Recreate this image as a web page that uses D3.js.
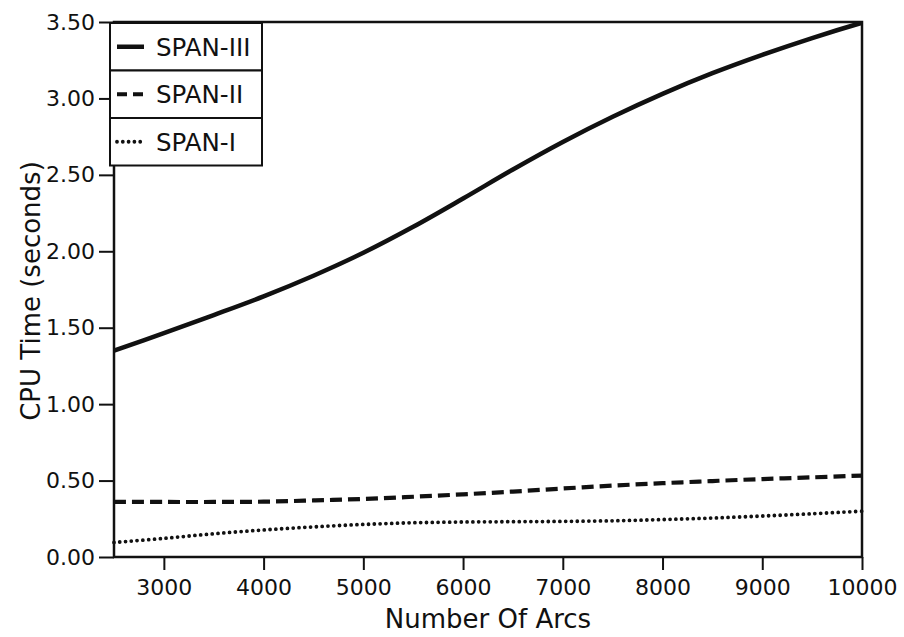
<!DOCTYPE html>
<html>
<head>
<meta charset="utf-8">
<script src="https://cdn.jsdelivr.net/npm/d3@7"></script>
<style>
  html, body { margin: 0; padding: 0; background: #fff; }
  svg { display: block; }
  text { font-family: "DejaVu Sans", sans-serif; fill: #111; }
</style>
</head>
<body>
<svg id="chart" width="904" height="637"></svg>
<script>
// ---- data ----
const arcs = [2500, 3000, 3500, 4000, 4500, 5000, 5500, 6000, 6500, 7000, 7500, 8000, 8500, 9000, 9500, 10000];
const span3 = [1.35, 1.465, 1.583, 1.705, 1.84, 1.99, 2.16, 2.345, 2.535, 2.715, 2.88, 3.03, 3.165, 3.285, 3.395, 3.495];
const span2 = [0.36, 0.36, 0.36, 0.362, 0.37, 0.38, 0.394, 0.41, 0.428, 0.448, 0.467, 0.483, 0.497, 0.51, 0.521, 0.533];
const span1 = [0.095, 0.122, 0.152, 0.177, 0.197, 0.213, 0.224, 0.229, 0.231, 0.233, 0.237, 0.245, 0.255, 0.268, 0.283, 0.30];
const seriesNames = ["SPAN-III", "SPAN-II", "SPAN-I"];
const xTicks = [3000, 4000, 5000, 6000, 7000, 8000, 9000, 10000];
const yTicks = [0, 0.5, 1.0, 1.5, 2.0, 2.5, 3.0, 3.5];
const xTitle = "Number Of Arcs";
const yTitle = "CPU Time (seconds)";

// ---- layout ----
const L = 114, R = 862, T = 22, B = 557;
const svg = d3.select("#chart");
const x = d3.scaleLinear().domain([2500, 10000]).range([L, R]);
const y = d3.scaleLinear().domain([0, 3.5]).range([B, T]);

const styles = [
  { dash: null, width: 4.5, cap: "butt" },
  { dash: "12,6", width: 4.2, cap: "butt" },
  { dash: "0,5.8", width: 3.8, cap: "round" }
];
const seriesData = [span3, span2, span1];

// frame
svg.append("rect").attr("x", L).attr("y", T).attr("width", R - L).attr("height", B - T)
  .attr("fill", "none").attr("stroke", "#111").attr("stroke-width", 2.5);

// axes
const xAxis = d3.axisBottom(x).tickValues(xTicks).tickSize(13).tickPadding(9).tickFormat(d3.format("d"));
const gx = svg.append("g").attr("transform", `translate(0,${B})`).call(xAxis);
gx.select(".domain").remove();
gx.selectAll(".tick line").attr("stroke", "#111").attr("stroke-width", 2);
gx.selectAll(".tick text").style("font-size", "22px").style("font-family", "DejaVu Sans").attr("fill", "#111");

const yAxis = d3.axisLeft(y).tickValues(yTicks).tickSize(15).tickPadding(4).tickFormat(d3.format(".2f"));
const gy = svg.append("g").attr("transform", `translate(${L},0)`).call(yAxis);
gy.select(".domain").remove();
gy.selectAll(".tick line").attr("stroke", "#111").attr("stroke-width", 2);
gy.selectAll(".tick text").style("font-size", "22px").style("font-family", "DejaVu Sans").attr("fill", "#111");

// titles
svg.append("text").attr("x", (L + R) / 2).attr("y", 628).attr("text-anchor", "middle")
  .style("font-size", "26px").text(xTitle);
svg.append("text").attr("transform", `translate(40,291) rotate(-90)`).attr("text-anchor", "middle")
  .style("font-size", "26px").text(yTitle);

// lines
const line = d3.line().x((d, i) => x(arcs[i])).y(d => y(d)).curve(d3.curveCatmullRom.alpha(0.5));
seriesData.forEach((s, k) => {
  svg.append("path").datum(s).attr("d", line)
    .attr("fill", "none").attr("stroke", "#111")
    .attr("stroke-width", styles[k].width)
    .attr("stroke-linecap", styles[k].cap)
    .attr("stroke-dasharray", styles[k].dash);
});

// legend
const lgX = 110, lgY = 23, lgW = 152, rowH = 47.5;
const lg = svg.append("g");
seriesNames.forEach((name, k) => {
  const ry = lgY + k * rowH;
  lg.append("rect").attr("x", lgX).attr("y", ry).attr("width", lgW).attr("height", rowH)
    .attr("fill", "#fff").attr("stroke", "#111").attr("stroke-width", 2);
  const cy = ry + rowH / 2;
  lg.append("line").attr("x1", 117).attr("x2", k === 2 ? 143 : 144).attr("y1", cy).attr("y2", cy)
    .attr("stroke", "#111").attr("stroke-width", styles[k].width)
    .attr("stroke-linecap", styles[k].cap)
    .attr("stroke-dasharray", k === 1 ? "10,6" : (k === 2 ? "0,5.8" : null));
  lg.append("text").attr("x", 156).attr("y", cy).attr("dy", "0.36em")
    .style("font-size", "24.5px").text(name);
});
</script>
</body>
</html>
